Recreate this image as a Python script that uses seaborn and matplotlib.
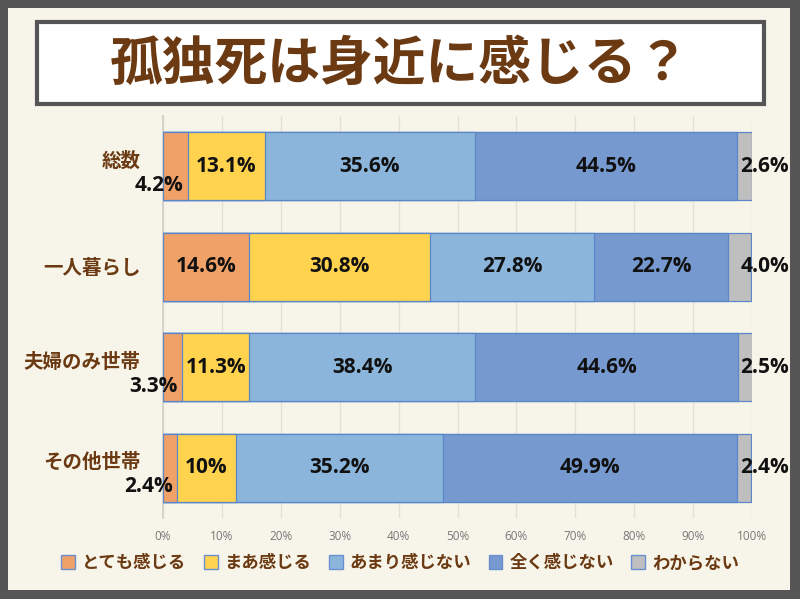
import matplotlib
matplotlib.use("Agg")
import matplotlib.pyplot as plt
import matplotlib.patches as mpatches
import matplotlib.transforms as mtrans
import seaborn as sns
import numpy as np
import pandas as pd

# data
groups = ["総数", "一人暮らし", "夫婦のみ世帯", "その他世帯"]
answers = ["とても感じる", "まあ感じる", "あまり感じない", "全く感じない", "わからない"]
totals_vals = ["4.2", "13.1", "35.6", "44.5", "2.6"]
single_vals = ["14.6", "30.8", "27.8", "22.7", "4.0"]
couple_vals = ["3.3", "11.3", "38.4", "44.6", "2.5"]
other_vals = ["2.4", "10", "35.2", "49.9", "2.4"]
colors = ["#F0A168", "#FFD34D", "#8BB5DB", "#7699CF", "#BFBFBF"]
ticks = [0, 10, 20, 30, 40, 50, 60, 70, 80, 90, 100]

rows = [totals_vals, single_vals, couple_vals, other_vals]
vals = np.array([[float(v) for v in r] for r in rows])
cum = np.cumsum(vals, axis=1)

brown = "#6B3A12"
bg = "#F7F5EA"
sns.set_theme(style="white")
plt.rcParams["font.family"] = ["Noto Sans CJK JP", "DejaVu Sans"]
num_font = ["Open Sans", "DejaVu Sans"]

fig = plt.figure(figsize=(8, 5.99), dpi=100)
fig.patch.set_facecolor("#565656")
W, H = 800, 599
fig.patches.append(mpatches.Rectangle((8 / W, 9 / H), 782 / W, 582 / H,
                                      transform=fig.transFigure, facecolor=bg,
                                      edgecolor="none", zorder=-2))
# title box
fig.patches.append(mpatches.Rectangle((37 / W, 1 - 104 / H), 727 / W, 82 / H,
                                      transform=fig.transFigure, facecolor="white",
                                      edgecolor="#555555", linewidth=3, zorder=-1))
fig.text(0.5, 1 - 64 / H, "孤独死は身近に感じる？", ha="center", va="center",
         fontsize=38, fontweight="bold", color=brown)

ax = fig.add_axes([163 / W, 1 - 518 / H, 589 / W, 402 / H])
ax.set_facecolor(bg)

# stacked bars: draw cumulative totals from the right-most segment backwards
for j in range(len(answers) - 1, -1, -1):
    df = pd.DataFrame({"group": groups, "value": cum[:, j]})
    sns.barplot(data=df, x="value", y="group", orient="h", color=colors[j],
                width=0.675, edgecolor="#5B87C9", linewidth=0.9,
                saturation=1, ax=ax, zorder=3)

lbl_kw = dict(fontsize=15, fontweight="bold", color="#111111", family=num_font)
for i in range(len(groups)):
    for j in range(len(answers)):
        v = vals[i, j]
        txt = rows[i][j] + "%"
        if j == len(answers) - 1:
            ax.text(98.0, i, txt, ha="left", va="center",
                    clip_on=False, zorder=5, **lbl_kw)
        elif v < 5:
            ax.text(cum[i, j] - 0.8, i + 0.19, txt, ha="right", va="center",
                    clip_on=False, zorder=5, **lbl_kw)
        else:
            ax.text(cum[i, j] - v / 2, i, txt, ha="center", va="center",
                    zorder=5, **lbl_kw)

ax.set_xlim(0, 100)
ax.set_ylim(3.5, -0.5)
ax.set_xticks(ticks)
ax.set_xticklabels([f"{t}%" for t in ticks], fontsize=8.5, color="#777777",
                   family=num_font)
ax.set_xlabel("")
ax.set_ylabel("")
ax.set_yticks(range(len(groups)))
ax.set_yticklabels(groups, fontsize=14, fontweight="bold", color=brown)
ax.tick_params(axis="y", length=0, pad=16)
ax.tick_params(axis="x", length=0, pad=9)
ax.grid(axis="x", color="#E3E0D6", linewidth=1, zorder=0)
ax.set_axisbelow(True)
for s in ["top", "right", "bottom"]:
    ax.spines[s].set_visible(False)
ax.spines["left"].set_color("#D0CEC6")
ax.spines["left"].set_linewidth(1.2)

# category labels that share space with a small value label sit higher
for k, lbl in enumerate(ax.get_yticklabels()):
    if k != 1:
        lbl.set_transform(lbl.get_transform() +
                          mtrans.ScaledTranslation(0, 0.07, fig.dpi_scale_trans))

handles = [mpatches.Patch(facecolor=c, edgecolor="#6A8FD0", linewidth=1)
           for c in colors]
leg = fig.legend(handles, answers, loc="center", bbox_to_anchor=(0.5, 1 - 563 / H),
                 ncol=5, frameon=False, handlelength=0.8, handleheight=0.8,
                 handletextpad=0.4, columnspacing=1.0,
                 prop={"size": 12.5, "weight": "bold"})
for t in leg.get_texts():
    t.set_color(brown)

fig.savefig("out.png", dpi=100, facecolor=fig.get_facecolor())
